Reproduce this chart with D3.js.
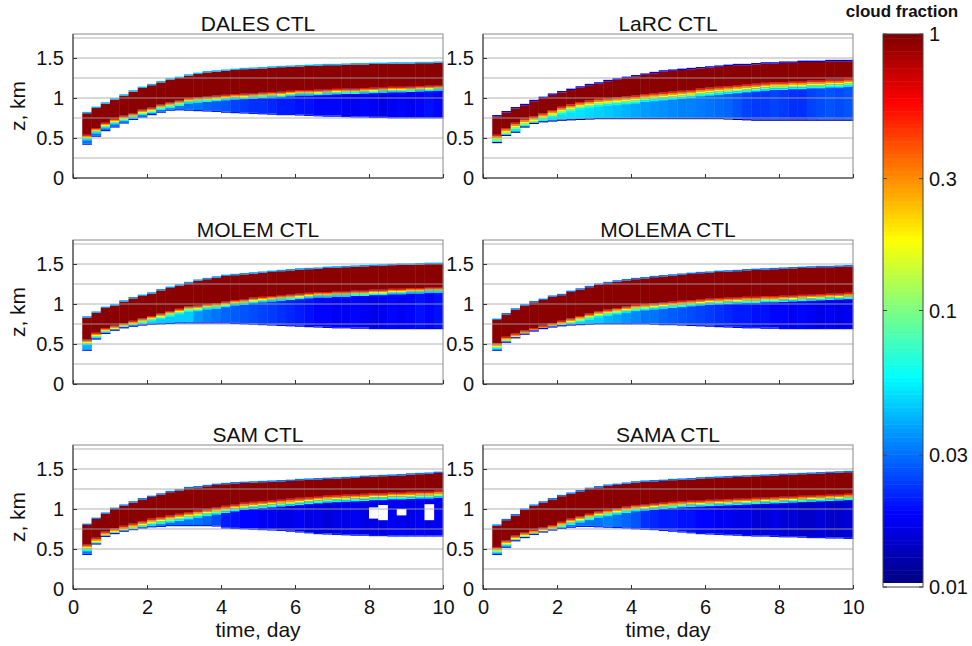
<!DOCTYPE html>
<html><head><meta charset="utf-8">
<script src="https://cdn.jsdelivr.net/npm/d3@7"></script>
<style>
body{margin:0;background:#fff}
svg{display:block}
text{font-family:"Liberation Sans",Arial,Helvetica,sans-serif;fill:#111}
</style>
</head><body>
<svg id="c" width="972" height="646"></svg>
<script>
// ---------- DATA ----------
const panelNames = ["DALES CTL","LaRC CTL","MOLEM CTL","MOLEMA CTL","SAM CTL","SAMA CTL"];
// start time of each 6-hour column (day)
const times = [0.25,0.5,0.75,1,1.25,1.5,1.75,2,2.25,2.5,2.75,3,3.25,3.5,3.75,4,4.25,4.5,4.75,5,5.25,5.5,5.75,6,6.25,6.5,6.75,7,7.25,7.5,7.75,8,8.25,8.5,8.75,9,9.25,9.5,9.75];
const xTicks = [0,2,4,6,8,10];
const yTicks = [0,0.5,1,1.5];
const gridLevels = [0.25,0.5,0.75,1,1.25,1.5,1.75];
const cbTicks = [1,0.3,0.1,0.03,0.01];
const cbTickLabels = ["1","0.3","0.1","0.03","0.01"];

// cloud top (km), base of overcast (cf~1) layer (km), cumulus base (km), cumulus cloud fraction
const dalesTop = [0.81,0.875,0.93,0.98,1.03,1.08,1.125,1.16,1.195,1.23,1.25,1.28,1.30,1.32,1.33,1.34,1.35,1.36,1.365,1.37,1.38,1.385,1.39,1.395,1.40,1.405,1.41,1.41,1.415,1.42,1.42,1.425,1.425,1.43,1.43,1.43,1.435,1.435,1.44];
const dalesRedBase = [0.54,0.625,0.69,0.74,0.78,0.81,0.855,0.88,0.92,0.945,0.97,1.0,1.01,1.02,1.03,1.04,1.05,1.055,1.06,1.07,1.075,1.08,1.09,1.10,1.10,1.105,1.11,1.115,1.12,1.12,1.125,1.13,1.135,1.14,1.14,1.145,1.15,1.155,1.16];
const dalesBase = [0.43,0.53,0.60,0.645,0.695,0.74,0.77,0.80,0.83,0.855,0.86,0.855,0.85,0.845,0.84,0.83,0.825,0.82,0.815,0.81,0.805,0.80,0.80,0.795,0.79,0.785,0.78,0.78,0.775,0.77,0.77,0.765,0.765,0.76,0.76,0.76,0.76,0.76,0.76];
const dalesCu = [0.03,0.03,0.03,0.03,0.03,0.03,0.03,0.03,0.03,0.035,0.032,0.03,0.03,0.028,0.027,0.026,0.024,0.023,0.022,0.022,0.021,0.02,0.02,0.019,0.019,0.018,0.018,0.018,0.017,0.017,0.018,0.017,0.016,0.017,0.018,0.017,0.018,0.019,0.018];

const larcTop = [0.77,0.82,0.87,0.91,0.96,1.0,1.04,1.07,1.10,1.13,1.16,1.18,1.21,1.23,1.25,1.27,1.29,1.31,1.33,1.34,1.35,1.36,1.37,1.38,1.39,1.40,1.41,1.41,1.42,1.43,1.43,1.44,1.44,1.45,1.45,1.45,1.46,1.46,1.46];
const larcRedBase = [0.54,0.625,0.69,0.74,0.77,0.81,0.85,0.89,0.92,0.95,0.97,0.99,1.0,1.01,1.02,1.03,1.05,1.06,1.07,1.08,1.09,1.10,1.12,1.13,1.14,1.15,1.16,1.17,1.18,1.19,1.20,1.20,1.21,1.21,1.22,1.22,1.23,1.23,1.24];
const larcBase = [0.45,0.54,0.58,0.645,0.69,0.71,0.72,0.73,0.735,0.74,0.745,0.75,0.75,0.75,0.75,0.75,0.75,0.75,0.75,0.75,0.75,0.75,0.75,0.75,0.75,0.745,0.74,0.735,0.73,0.73,0.73,0.73,0.73,0.73,0.73,0.73,0.73,0.73,0.73];
const larcCu = [0.05,0.05,0.05,0.05,0.05,0.05,0.05,0.05,0.05,0.05,0.048,0.046,0.044,0.042,0.04,0.038,0.036,0.035,0.034,0.033,0.032,0.032,0.031,0.03,0.029,0.028,0.026,0.024,0.023,0.023,0.024,0.023,0.022,0.022,0.024,0.025,0.026,0.025,0.026];

const molemTop = [0.83,0.89,0.95,0.98,1.03,1.07,1.10,1.13,1.17,1.20,1.23,1.26,1.29,1.31,1.33,1.35,1.36,1.37,1.38,1.39,1.40,1.41,1.42,1.43,1.435,1.44,1.45,1.455,1.46,1.465,1.47,1.475,1.48,1.485,1.49,1.49,1.495,1.50,1.50];
const molemRedBase = [0.555,0.64,0.70,0.73,0.76,0.79,0.82,0.85,0.88,0.91,0.94,0.97,0.98,1.0,1.01,1.03,1.05,1.06,1.08,1.09,1.10,1.11,1.12,1.13,1.14,1.15,1.15,1.16,1.16,1.17,1.17,1.18,1.18,1.19,1.19,1.20,1.20,1.21,1.21];
const molemBase = [0.43,0.57,0.64,0.68,0.71,0.73,0.745,0.755,0.76,0.765,0.77,0.77,0.77,0.77,0.77,0.77,0.765,0.76,0.755,0.75,0.745,0.74,0.735,0.73,0.725,0.72,0.715,0.71,0.71,0.705,0.705,0.70,0.70,0.70,0.70,0.70,0.70,0.70,0.70];
const molemCu = [0.04,0.04,0.04,0.04,0.04,0.04,0.04,0.045,0.045,0.045,0.045,0.045,0.035,0.032,0.03,0.028,0.027,0.026,0.025,0.024,0.023,0.022,0.021,0.02,0.019,0.018,0.018,0.017,0.017,0.018,0.017,0.016,0.017,0.018,0.017,0.018,0.019,0.018,0.019];

const molemaTop = [0.80,0.87,0.93,0.98,1.02,1.05,1.09,1.11,1.15,1.18,1.21,1.24,1.26,1.28,1.295,1.31,1.32,1.335,1.345,1.355,1.365,1.375,1.385,1.39,1.40,1.405,1.41,1.42,1.425,1.43,1.435,1.44,1.445,1.45,1.455,1.46,1.46,1.465,1.47];
const molemaRedBase = [0.51,0.59,0.63,0.67,0.70,0.73,0.76,0.79,0.82,0.85,0.88,0.91,0.93,0.95,0.97,0.99,1.0,1.01,1.02,1.03,1.04,1.05,1.06,1.07,1.075,1.08,1.085,1.09,1.09,1.10,1.10,1.105,1.11,1.115,1.12,1.125,1.13,1.135,1.14];
const molemaBase = [0.43,0.53,0.585,0.63,0.67,0.70,0.72,0.735,0.745,0.75,0.755,0.76,0.76,0.76,0.76,0.76,0.76,0.755,0.75,0.75,0.745,0.74,0.735,0.73,0.725,0.72,0.715,0.71,0.71,0.705,0.705,0.70,0.70,0.70,0.70,0.70,0.70,0.70,0.70];
const molemaCu = [0.045,0.045,0.045,0.045,0.045,0.045,0.045,0.045,0.045,0.045,0.045,0.045,0.04,0.038,0.035,0.033,0.03,0.03,0.028,0.027,0.026,0.025,0.024,0.023,0.022,0.021,0.02,0.02,0.019,0.019,0.018,0.018,0.017,0.018,0.017,0.016,0.017,0.016,0.017];

const samTop = [0.80,0.875,0.94,1.0,1.04,1.08,1.12,1.15,1.18,1.21,1.23,1.26,1.27,1.285,1.30,1.31,1.32,1.325,1.33,1.335,1.34,1.345,1.35,1.36,1.365,1.37,1.375,1.38,1.385,1.39,1.40,1.405,1.41,1.415,1.42,1.43,1.435,1.44,1.45];
const samRedBase = [0.56,0.64,0.72,0.76,0.79,0.82,0.85,0.88,0.90,0.92,0.94,0.96,0.98,1.0,1.02,1.04,1.06,1.08,1.09,1.10,1.11,1.12,1.13,1.14,1.15,1.16,1.17,1.175,1.18,1.185,1.19,1.20,1.20,1.21,1.21,1.215,1.22,1.22,1.23];
const samBase = [0.44,0.57,0.665,0.70,0.73,0.75,0.77,0.785,0.79,0.80,0.80,0.80,0.80,0.80,0.795,0.77,0.765,0.76,0.755,0.75,0.745,0.74,0.73,0.72,0.71,0.70,0.695,0.69,0.685,0.68,0.68,0.675,0.675,0.67,0.67,0.67,0.67,0.67,0.67];
const samCu = [0.03,0.03,0.03,0.03,0.03,0.03,0.03,0.03,0.03,0.03,0.03,0.03,0.03,0.028,0.025,0.02,0.019,0.018,0.018,0.017,0.017,0.016,0.016,0.017,0.016,0.016,0.015,0.016,0.016,0.017,0.016,0.016,0.016,0.017,0.017,0.016,0.017,0.016,0.017];
// gaps (cloud fraction below 0.01) in the SAM cumulus layer
const samGapStart = [8.0,8.25,8.75,9.5];
const samGapLow = [0.88,0.86,0.92,0.86];
const samGapHigh = [1.02,1.05,1.0,1.06];

const samaTop = [0.79,0.86,0.92,0.99,1.04,1.08,1.12,1.16,1.19,1.22,1.25,1.27,1.29,1.30,1.315,1.33,1.34,1.345,1.35,1.36,1.365,1.37,1.38,1.385,1.39,1.395,1.40,1.405,1.41,1.415,1.42,1.425,1.43,1.435,1.44,1.445,1.45,1.455,1.46];
const samaRedBase = [0.525,0.61,0.67,0.71,0.74,0.77,0.80,0.84,0.88,0.91,0.94,0.97,0.99,1.01,1.03,1.05,1.06,1.07,1.08,1.09,1.10,1.105,1.11,1.115,1.12,1.125,1.13,1.135,1.14,1.145,1.15,1.155,1.16,1.165,1.17,1.175,1.18,1.185,1.19];
const samaBase = [0.44,0.53,0.61,0.65,0.69,0.72,0.745,0.765,0.78,0.79,0.79,0.785,0.78,0.775,0.77,0.76,0.755,0.75,0.74,0.73,0.72,0.71,0.70,0.695,0.69,0.685,0.68,0.675,0.67,0.67,0.665,0.66,0.66,0.655,0.65,0.65,0.645,0.645,0.64];
const samaCu = [0.03,0.03,0.03,0.03,0.03,0.03,0.03,0.03,0.03,0.03,0.03,0.03,0.032,0.03,0.028,0.026,0.022,0.021,0.02,0.02,0.019,0.019,0.018,0.018,0.017,0.017,0.016,0.016,0.015,0.015,0.016,0.015,0.015,0.014,0.014,0.015,0.014,0.014,0.015];

// per-panel: depth of the sharp transition below the overcast layer (km), top-edge and base-edge cloud fraction
const transDepth = [0.07,0.1,0.07,0.08,0.09,0.08];
const topEdgeFrac = [0.04,0.015,0.035,0.03,0.03,0.03];
const baseEdgeFrac = [0.02,0.012,0.018,0.018,0.02,0.02];
const transFrac = [0.5,0.3,0.18,0.1,0.056];
const overcastFrac = 0.95;

// ---------- DRAW ----------
const panelTops = [dalesTop,larcTop,molemTop,molemaTop,samTop,samaTop];
const panelRedBases = [dalesRedBase,larcRedBase,molemRedBase,molemaRedBase,samRedBase,samaRedBase];
const panelBases = [dalesBase,larcBase,molemBase,molemaBase,samBase,samaBase];
const panelCus = [dalesCu,larcCu,molemCu,molemaCu,samCu,samaCu];

function jet(p){
  const c = v => Math.max(0, Math.min(1, v));
  const r = c(Math.min(4*p-1.5, -4*p+4.5));
  const g = c(Math.min(4*p-0.5, -4*p+3.5));
  const b = c(Math.min(4*p+0.5, -4*p+2.5));
  return d3.rgb(r*255, g*255, b*255).formatHex();
}
const cfPos = d3.scaleLog().domain([0.01,1]).range([0,1]).clamp(true);
const cfColor = v => v < 0.01 ? "#ffffff" : jet(cfPos(v));

const svg = d3.select("#c");
const colLeft = [73,483], rowTop = [34,240,445], PW = 370, PH = 144;

panelNames.forEach((name,k) => {
  const x0 = colLeft[k%2], y0 = rowTop[Math.floor(k/2)];
  const x = d3.scaleLinear().domain([0,10]).range([x0, x0+PW]);
  const y = d3.scaleLinear().domain([0,1.8]).range([y0+PH, y0]);
  const g = svg.append("g");

  const cells = [];
  const tops = panelTops[k], reds = panelRedBases[k], bases = panelBases[k], cus = panelCus[k];
  times.forEach((t0,i) => {
    const t1 = i+1 < times.length ? times[i+1] : 10;
    cells.push({t0,t1,z0:bases[i],z1:reds[i],v:cus[i]});
    const h = transDepth[k]/transFrac.length;
    transFrac.forEach((v,j) => {
      const z1 = reds[i] - j*h, z0 = Math.max(bases[i], z1 - h);
      if (z1 > bases[i]) cells.push({t0,t1,z0,z1,v});
    });
    cells.push({t0,t1,z0:reds[i],z1:tops[i],v:overcastFrac});
    cells.push({t0,t1,z0:tops[i],z1:tops[i]+0.017,v:topEdgeFrac[k]});
    cells.push({t0,t1,z0:bases[i]-0.015,z1:bases[i],v:baseEdgeFrac[k]});
  });
  if (k === 4) {
    samGapStart.forEach((t0,j) => cells.push({t0,t1:t0+0.25,z0:samGapLow[j],z1:samGapHigh[j],v:0}));
  }
  g.selectAll("rect.cell").data(cells).join("rect")
    .attr("class","cell")
    .attr("x", d => x(d.t0))
    .attr("width", d => x(d.t1) - x(d.t0) + 0.4)
    .attr("y", d => y(d.z1))
    .attr("height", d => Math.max(0, y(d.z0) - y(d.z1)))
    .attr("fill", d => cfColor(d.v));

  // grid lines
  g.selectAll("line.grid").data(gridLevels).join("line")
    .attr("x1", x0).attr("x2", x0+PW)
    .attr("y1", d => y(d)).attr("y2", d => y(d))
    .attr("stroke", "#a4a4a4").attr("stroke-opacity", 0.85).attr("stroke-width", 1);

  // frame
  g.append("rect").attr("x", x0).attr("y", y0).attr("width", PW).attr("height", PH)
    .attr("fill","none").attr("stroke","#8a8a8a").attr("stroke-width",1);
  g.append("line").attr("x1",x0).attr("x2",x0).attr("y1",y0).attr("y2",y0+PH).attr("stroke","#333");
  g.append("line").attr("x1",x0).attr("x2",x0+PW).attr("y1",y0+PH).attr("y2",y0+PH).attr("stroke","#333");

  // y axis ticks + labels
  const ya = d3.axisLeft(y).tickValues(yTicks).tickSizeInner(-4).tickSizeOuter(0).tickPadding(9)
    .tickFormat(d => d3.format("")(d));
  const yg = g.append("g").attr("transform",`translate(${x0},0)`).call(ya);
  yg.select(".domain").remove();
  yg.selectAll("line").attr("stroke","#333");
  yg.selectAll("text").attr("font-size",20).attr("font-family","Liberation Sans, Arial, sans-serif").attr("fill","#111");

  // x axis ticks
  const xa = d3.axisBottom(x).tickValues(xTicks).tickSizeInner(-4).tickSizeOuter(0).tickPadding(11);
  const xg = g.append("g").attr("transform",`translate(0,${y0+PH})`).call(xa);
  xg.select(".domain").remove();
  xg.selectAll("line").attr("stroke","#333");
  xg.selectAll("text").attr("font-size",20).attr("font-family","Liberation Sans, Arial, sans-serif").attr("fill","#111");
  if (Math.floor(k/2) < 2) xg.selectAll("text").remove();
  else {
    g.append("text").attr("x", x0+PW/2).attr("y", y0+PH+48).attr("text-anchor","middle")
      .attr("font-size",21).text("time, day");
  }
  if (k%2 === 0) {
    g.append("text").attr("transform",`translate(25,${y0+PH/2}) rotate(-90)`)
      .attr("text-anchor","middle").attr("font-size",21).text("z, km");
  }
  // title
  g.append("text").attr("x", x0+PW/2).attr("y", y0-3.5).attr("text-anchor","middle")
    .attr("font-size",21).text(name);
});

// ---------- COLORBAR ----------
const cbX = 883, cbW = 40, cbTop = 34, cbBot = 587, cbWhite = 4;
const cbY = d3.scaleLog().domain([0.01,1]).range([cbBot, cbTop]);
const cbSteps = d3.range(0, 128);
const cbLevel = d3.scaleLinear().domain([0,128]).range([cbBot-cbWhite, cbTop]);
svg.append("g").selectAll("rect").data(cbSteps).join("rect")
  .attr("x", cbX).attr("width", cbW)
  .attr("y", d => cbLevel(d+1))
  .attr("height", d => cbLevel(d) - cbLevel(d+1) + 0.5)
  .attr("fill", d => jet((d+0.5)/128));
svg.append("rect").attr("x",cbX).attr("y",cbBot-cbWhite).attr("width",cbW).attr("height",cbWhite).attr("fill","#fff");
svg.append("rect").attr("x",cbX).attr("y",cbTop).attr("width",cbW).attr("height",cbBot-cbTop)
  .attr("fill","none").attr("stroke","#444").attr("stroke-width",1);
const cbg = svg.append("g");
cbg.selectAll("line.l").data(cbTicks).join("line").attr("class","l")
  .attr("x1",cbX).attr("x2",cbX+4).attr("y1",d=>cbY(d)).attr("y2",d=>cbY(d)).attr("stroke","#444");
cbg.selectAll("line.r").data(cbTicks).join("line").attr("class","r")
  .attr("x1",cbX+cbW-4).attr("x2",cbX+cbW).attr("y1",d=>cbY(d)).attr("y2",d=>cbY(d)).attr("stroke","#444");
cbg.selectAll("text").data(cbTicks).join("text")
  .attr("x", cbX+cbW+6).attr("y", d => cbY(d)).attr("dy","0.35em")
  .attr("font-size",20).text((d,i) => cbTickLabels[i]);
svg.append("text").attr("x",902).attr("y",17).attr("text-anchor","middle")
  .attr("font-size",17).attr("font-weight","bold").text("cloud fraction");
</script>
</body></html>
